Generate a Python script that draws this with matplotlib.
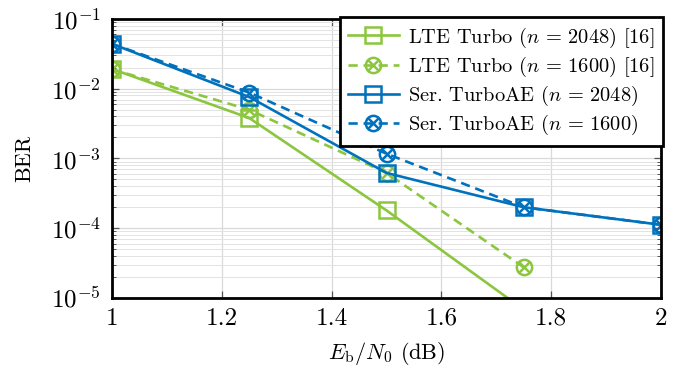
import matplotlib.pyplot as plt
from matplotlib.ticker import LogLocator, MultipleLocator, NullFormatter

plt.rcParams['font.family'] = 'serif'
plt.rcParams['font.serif'] = ['cmr10']
plt.rcParams['mathtext.fontset'] = 'cm'
plt.rcParams['axes.formatter.use_mathtext'] = True

green = '#8CC63E'
blue = '#0072BD'

# Eb/N0 in dB
snr = [1.0, 1.25, 1.5, 1.75, 2.0]
lte_2048 = [1.92e-2, 3.8e-3, 1.8e-4, 6.8e-6]
lte_1600 = [1.9e-2, 5.0e-3, 6.2e-4, 2.75e-5]
ser_2048 = [4.4e-2, 7.6e-3, 6.2e-4, 2.0e-4, 1.12e-4]
ser_1600 = [4.4e-2, 8.8e-3, 1.17e-3, 2.0e-4, 1.12e-4]

fig = plt.figure(figsize=(6.85, 3.72), dpi=100)
ax = fig.add_axes([0.1635, 0.199, 0.8015, 0.75])

lw, ms, mew = 1.9, 11, 1.8
dash = (3.5, 2.2)


def circx(x, y, c):
    l1, = ax.plot(x, y, color=c, ls='--', dashes=dash, lw=lw, marker='o',
                  ms=ms, mfc='none', mew=mew)
    l2, = ax.plot(x, y, color=c, ls='none', marker='x', ms=ms * 0.68, mew=mew)
    return (l1, l2)


h1, = ax.plot(snr[:4], lte_2048, color=green, lw=lw, marker='s', ms=ms,
              mfc='none', mew=mew)
h2 = circx(snr[:4], lte_1600, green)
h3, = ax.plot(snr, ser_2048, color=blue, lw=lw, marker='s', ms=ms,
              mfc='none', mew=mew)
h4 = circx(snr, ser_1600, blue)

ax.set_yscale('log')
ax.set_xlim(1, 2)
ax.set_ylim(1e-5, 1e-1)
ax.xaxis.set_major_locator(MultipleLocator(0.2))
ax.yaxis.set_major_locator(LogLocator(base=10, numticks=10))
ax.yaxis.set_minor_locator(LogLocator(base=10, subs=range(2, 10), numticks=10))
ax.yaxis.set_minor_formatter(NullFormatter())
ax.xaxis.set_major_formatter(plt.FuncFormatter(lambda v, p: f'{v:g}'))

ax.grid(True, which='major', color='#d9d9d9', lw=0.9)
ax.grid(True, which='minor', axis='y', color='#e3e3e3', lw=0.7)
ax.set_axisbelow(True)
ax.tick_params(which='both', direction='in', top=True, right=True,
               labelsize=18, color='#555555')
ax.tick_params(axis='x', pad=7)
ax.tick_params(axis='y', pad=8)
ax.tick_params(which='major', length=5, width=0.9)
ax.tick_params(which='minor', length=3, width=0.7)
for s in ax.spines.values():
    s.set_linewidth(2.0)

ax.set_xlabel(r'$E_{\mathrm{b}}/N_0$ (dB)', fontsize=16, labelpad=7)
ax.set_ylabel('BER', fontsize=16, labelpad=12)

labels = [r'LTE Turbo ($n\,=\,2048$) [16]', r'LTE Turbo ($n\,=\,1600$) [16]',
          r'Ser. TurboAE ($n\,=\,2048$)', r'Ser. TurboAE ($n\,=\,1600$)']
leg = ax.legend([h1, h2, h3, h4], labels, loc='upper right',
                bbox_to_anchor=(1.003, 1.006), borderaxespad=0,
                fontsize=14.7, fancybox=False, framealpha=1, edgecolor='black',
                handlelength=2.5, handletextpad=0.45, labelspacing=0.25,
                borderpad=0.4)
leg.get_frame().set_linewidth(2.0)

fig.savefig('out.png', dpi=100)
